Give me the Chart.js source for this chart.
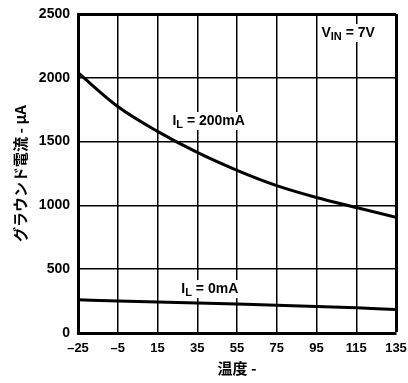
<!DOCTYPE html>
<html>
<head>
<meta charset="utf-8">
<script src="https://cdn.jsdelivr.net/npm/chart.js@4"></script>
<style>
  html, body { margin: 0; padding: 0; background: #fff; }
  #wrap { width: 408px; height: 383px; }
</style>
</head>
<body>
<div id="wrap"><canvas id="chart" width="408" height="383"></canvas></div>
<script>
  // temperature (°C) on x, ground current (µA) on y
  var temps = [-25, -5, 15, 35, 55, 75, 95, 115, 135];
  var current200mA = [2040, 1775, 1580, 1415, 1275, 1155, 1062, 984, 906];
  var current0mA = [260, 250, 242, 235, 227, 218, 208, 197, 185];
  var xTicks = [-25, -5, 15, 35, 55, 75, 95, 115, 135];
  var yTicks = [0, 500, 1000, 1500, 2000, 2500];

  var fam = "'Liberation Sans', Arial, sans-serif";

  function toPoints(ys) {
    return temps.map(function (t, i) { return { x: t, y: ys[i] }; });
  }

  /* ---------- labels drawn on the plot (with subscripts) ---------- */
  var notes = [
    { x: 22.5, y: 1630, parts: [["I", 0], ["L", 1], [" = 200mA", 0]] },
    { x: 27, y: 313, parts: [["I", 0], ["L", 1], [" = 0mA", 0]] },
    { x: 97.5, y: 2320, parts: [["V", 0], ["IN", 1], [" = 7V", 0]] }
  ];

  var labelPlugin = {
    id: "labels",
    afterDatasetsDraw: function (chart) {
      var ctx = chart.ctx;
      var xs = chart.scales.x, ys = chart.scales.y;
      ctx.save();
      ctx.textBaseline = "alphabetic";
      ctx.textAlign = "left";
      notes.forEach(function (n) {
        var px = xs.getPixelForValue(n.x);
        var py = ys.getPixelForValue(n.y);
        var w = 0;
        n.parts.forEach(function (p) {
          ctx.font = p[1] ? "bold 11px " + fam : "bold 14px " + fam;
          w += ctx.measureText(p[0]).width;
        });
        ctx.fillStyle = "#fff";
        ctx.fillRect(px - 2, py - 13, w + 4, 18);
        ctx.fillStyle = "#000";
        var cx = px;
        n.parts.forEach(function (p) {
          ctx.font = p[1] ? "bold 11px " + fam : "bold 14px " + fam;
          ctx.fillText(p[0], cx, p[1] ? py + 3 : py);
          cx += ctx.measureText(p[0]).width;
        });
      });

      // axis titles
      var area = chart.chartArea;
      ctx.font = "bold 15px 'Noto Sans CJK JP', sans-serif";
      ctx.textAlign = "center";
      ctx.textBaseline = "middle";
      ctx.fillText("温度 -", (area.left + area.right) / 2, 368);
      ctx.translate(20, (area.top + area.bottom) / 2);
      ctx.rotate(-Math.PI / 2);
      ctx.fillText("グラウンド電流 - µA", 0, 0);
      ctx.restore();
    }
  };

  var lineStyle = {
    borderColor: "#000",
    backgroundColor: "#000",
    borderWidth: 3,
    pointRadius: 0,
    cubicInterpolationMode: "monotone",
    fill: false
  };

  new Chart(document.getElementById("chart"), {
    type: "line",
    data: {
      datasets: [
        Object.assign({ label: "IL = 200mA", data: toPoints(current200mA) }, lineStyle),
        Object.assign({ label: "IL = 0mA", data: toPoints(current0mA) }, lineStyle)
      ]
    },
    options: {
      responsive: false,
      animation: false,
      events: [],
      layout: { padding: { left: 0, right: 12, top: 14, bottom: 0 } },
      plugins: { legend: { display: false }, tooltip: { enabled: false } },
      scales: {
        x: {
          type: "linear",
          min: -25,
          max: 135,
          afterBuildTicks: function (s) { s.ticks = xTicks.map(function (v) { return { value: v }; }); },
          afterFit: function (s) { s.height = 50; s.paddingLeft = 0; s.paddingRight = 0; },
          grid: {
            color: "#000",
            drawTicks: false,
            lineWidth: function (c) { return c.tick && c.tick.value === 135 ? 3 : 1.5; }
          },
          border: { display: true, color: "#000", width: 3 },
          ticks: {
            color: "#000",
            font: { family: fam, size: 13, weight: "bold" },
            padding: 8,
            maxRotation: 0,
            callback: function (v) { return v < 0 ? "–" + Math.abs(v) : String(v); }
          }
        },
        y: {
          min: 0,
          max: 2500,
          afterBuildTicks: function (s) { s.ticks = yTicks.map(function (v) { return { value: v }; }); },
          afterFit: function (s) { s.width = 78; s.paddingTop = 0; s.paddingBottom = 0; },
          grid: {
            color: "#000",
            drawTicks: false,
            lineWidth: function (c) { return c.tick && c.tick.value === 2500 ? 3 : 1.5; }
          },
          border: { display: true, color: "#000", width: 3 },
          ticks: {
            color: "#000",
            font: { family: fam, size: 14, weight: "bold" },
            padding: 8,
            callback: function (v) { return String(v); }
          }
        }
      }
    },
    plugins: [labelPlugin]
  });
</script>
</body>
</html>
